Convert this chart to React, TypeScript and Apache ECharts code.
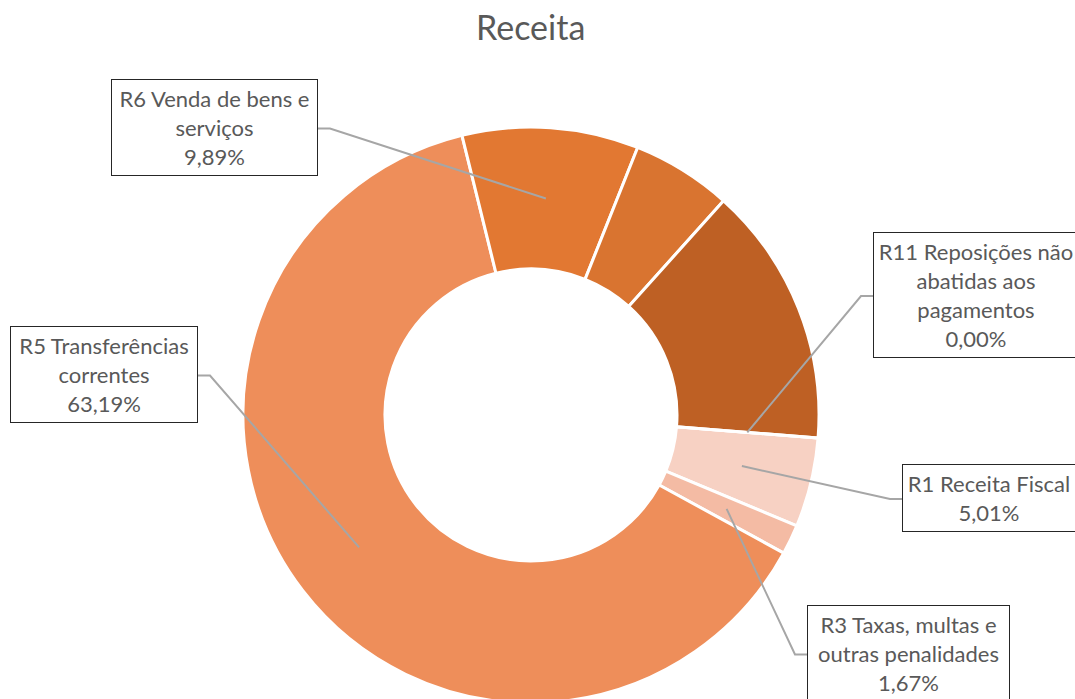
import React, { useEffect, useRef } from "react";
import * as echarts from "echarts";

const titleText = "Receita";
const categories = [
  "R1 Receita Fiscal",
  "R3 Taxas, multas e outras penalidades",
  "R5 Transferências correntes",
  "R6 Venda de bens e serviços",
  "R7 Outras receitas correntes",
  "R9 Transferências de capital",
  "R11 Reposições não abatidas aos pagamentos",
];
const values = [5.01, 1.67, 63.19, 9.89, 5.62, 14.62, 0.0];
const labelTextLines: (string[] | null)[] = [
  ["R1 Receita Fiscal"],
  ["R3 Taxas, multas e", "outras penalidades"],
  ["R5 Transferências", "correntes"],
  ["R6 Venda de bens e", "serviços"],
  null,
  null,
  ["R11 Reposições não", "abatidas aos", "pagamentos"],
];
const colors = ["#F7D1C3", "#F4BBA4", "#EE8E5A", "#E27832", "#D97430", "#BE6024", "#A8501C"];

// label box placement (left, top, width, side where leader line enters)
const labelBoxes: ({ left: number; top: number; width: number; side: "left" | "right" } | null)[] = [
  { left: 902, top: 465, width: 174, side: "left" },
  { left: 807, top: 606, width: 203, side: "left" },
  { left: 10, top: 327, width: 188, side: "right" },
  { left: 111, top: 80, width: 207, side: "right" },
  null,
  null,
  { left: 873, top: 233, width: 206, side: "left" },
];

const FONT = "Lato, 'Open Sans', sans-serif";
const CENTER = [531, 415];
const START = -4.6;

export default function App() {
  const ref = useRef<HTMLDivElement>(null);
  useEffect(() => {
    if (!ref.current) return;
    const chart = echarts.init(ref.current, null, { renderer: "svg" });
    const padH = 4;
    const padV = 4;
    const mainData = categories.map((name, i) => ({
      name,
      value: values[i],
      itemStyle: { color: colors[i] },
    }));
    const labelData = categories.map((name, i) => {
      const box = labelBoxes[i];
      const show = !!labelTextLines[i];
      return {
        name,
        value: values[i],
        label: show
          ? { show: true, width: box ? box.width - padH * 2 - 2 : undefined }
          : { show: false },
        labelLine: { show },
      };
    });
    chart.setOption({
      animation: false,
      title: {
        text: titleText,
        left: 476,
        top: 9,
        padding: 0,
        textStyle: { fontFamily: FONT, fontSize: 34, fontWeight: "normal", color: "#595959" },
      },
      series: [
        {
          type: "pie",
          z: 2,
          center: CENTER,
          radius: [146, 288],
          startAngle: START,
          clockwise: true,
          silent: true,
          label: { show: false },
          labelLine: { show: false },
          itemStyle: { borderColor: "#ffffff", borderWidth: 3 },
          data: mainData,
        },
        {
          type: "pie",
          z: 5,
          center: CENTER,
          radius: [0, 217],
          startAngle: START,
          clockwise: true,
          silent: true,
          avoidLabelOverlap: false,
          itemStyle: { color: "rgba(0,0,0,0)", borderWidth: 0 },
          label: {
            show: true,
            position: "outside",
            overflow: "none",
            formatter: (p: any) => {
              const lines = labelTextLines[p.dataIndex] || [];
              const pct = values[p.dataIndex].toFixed(2).replace(".", ",") + "%";
              return [...lines, pct].join("\n");
            },
            fontFamily: FONT,
            fontSize: 22,
            lineHeight: 29,
            color: "#595959",
            align: "center",
            backgroundColor: "#ffffff",
            borderColor: "#262626",
            borderWidth: 1,
            padding: [padV, padH],
          },
          labelLine: {
            show: true,
            length: 10,
            length2: 10,
            lineStyle: { color: "#A6A6A6", width: 2 },
          },
          labelLayout: (params: any) => {
            const b = labelBoxes[params.dataIndex];
            if (!b) return {};
            const h = params.labelRect.height;
            const ex = b.side === "left" ? b.left : b.left + b.width;
            const ey = b.top + h / 2;
            const bx = b.side === "left" ? ex - 12 : ex + 12;
            const p0 = params.labelLinePoints ? params.labelLinePoints[0] : [bx, ey];
            return {
              x: b.left + b.width / 2,
              y: b.top,
              align: "center",
              verticalAlign: "top",
              labelLinePoints: [p0, [bx, ey], [ex, ey]],
            };
          },
          data: labelData,
        },
      ],
    });
    return () => chart.dispose();
  }, []);
  return (
    <div
      ref={ref}
      style={{ position: "fixed", left: 0, top: 0, width: 1075, height: 699, background: "#ffffff" }}
    />
  );
}
